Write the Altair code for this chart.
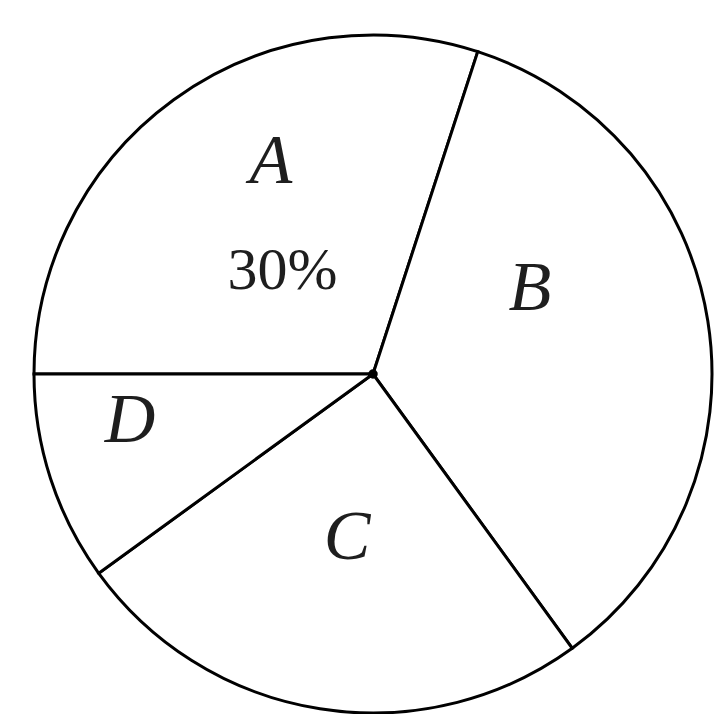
import altair as alt
import pandas as pd

categories = ["A", "B", "C", "D"]
shares = [30, 35, 25, 10]
pct_label = "30%"

df = pd.DataFrame({"cat": categories, "share": shares, "order": [0, 1, 2, 3]})

TAU = 6.283185307179586
start = 1.5 * 3.141592653589793
theta_scale = alt.Scale(range=[start, start + TAU], domain=[0, sum(shares)])
CX, CY, R = 365, 366, 339

base = alt.Chart(df)

pie = base.mark_arc(
    fill="white", stroke="black", strokeWidth=3, radius=R
).encode(
    theta=alt.Theta("share:Q", stack=True, scale=theta_scale),
    order=alt.Order("order:Q"),
    x=alt.value(CX), y=alt.value(CY),
)

# label layout: (category, text, radius, dx, dy, italic, size)
layout = [
    ("A", "A", 235, 36, -22, True, 70),
    ("A", pct_label, 137, -10, 8, False, 60),
    ("B", "B", 178, -19, -57, True, 70),
    ("C", "C", 166, 0, 0, True, 70),
    ("D", "D", 248, -7, -30, True, 70),
]

layers = [pie]
for cat, txt, r, dx, dy, ital, size in layout:
    t = base.mark_text(
        radius=r, dx=dx, dy=dy, font="Liberation Serif",
        fontStyle="italic" if ital else "normal", fontSize=size,
        color="#1e1e1e", baseline="middle", align="center",
    ).encode(
        theta=alt.Theta("share:Q", stack=True, scale=theta_scale),
        order=alt.Order("order:Q"),
        text=alt.Text("lbl:N"),
        x=alt.value(CX), y=alt.value(CY),
        opacity=alt.condition(alt.datum.cat == cat, alt.value(1), alt.value(0)),
    ).transform_calculate(lbl=f"'{txt}'")
    layers.append(t)

dot = alt.Chart(pd.DataFrame({"v": [0]})).mark_point(
    filled=True, color="black", size=90, opacity=1
).encode(x=alt.value(CX), y=alt.value(CY))
layers.append(dot)

chart = alt.layer(*layers).properties(
    width=706, height=706, padding=0, autosize="none"
).configure_view(stroke=None)

chart.save("out.html", embed_options={"renderer": "svg", "actions": False})
